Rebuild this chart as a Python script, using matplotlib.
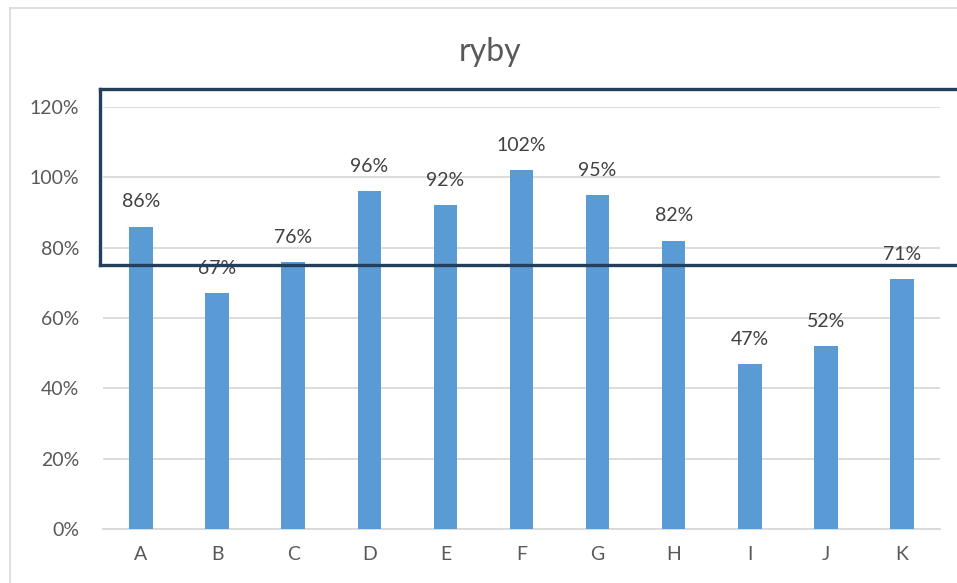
import matplotlib
matplotlib.use("Agg")
import matplotlib.pyplot as plt
from matplotlib.lines import Line2D
from matplotlib.ticker import FuncFormatter

categories = ["A", "B", "C", "D", "E", "F", "G", "H", "I", "J", "K"]
values = [0.86, 0.67, 0.76, 0.96, 0.92, 1.02, 0.95, 0.82, 0.47, 0.52, 0.71]
yticks = [0, 0.2, 0.4, 0.6, 0.8, 1.0, 1.2]

plt.rcParams["font.family"] = ["Lato", "DejaVu Sans"]

W, H = 957, 583
fig = plt.figure(figsize=(W / 100, H / 100), dpi=100)
fig.patch.set_facecolor("white")

def fx(px):
    return px / W

def fy(py):
    return 1 - py / H

ax = fig.add_axes([fx(103), fy(529), fx(940) - fx(103), fy(107) - fy(529)])

bar_color = "#5B9BD5"
text_color = "#595959"
grid_color = "#D9D9D9"

x = range(len(categories))
ax.bar(x, values, width=0.31, color=bar_color, zorder=3)

for xi, v in zip(x, values):
    ax.text(xi, v + 0.046, f"{round(v * 100)}%", ha="center", va="bottom",
            fontsize=14, color="#404040", zorder=4)

ax.set_xlim(-0.5, len(categories) - 0.5)
ax.set_ylim(0, 1.2)
ax.set_yticks(yticks)
ax.yaxis.set_major_formatter(FuncFormatter(lambda v, _: f"{round(v * 100)}%"))
ax.set_xticks(list(x))
ax.set_xticklabels(categories)
ax.tick_params(axis="both", length=0, labelsize=14, colors=text_color)
ax.tick_params(axis="x", pad=12)
ax.tick_params(axis="y", pad=17)
ax.grid(axis="y", color=grid_color, linewidth=1.3, zorder=0)
for s in ["top", "right", "left"]:
    ax.spines[s].set_visible(False)
ax.spines["bottom"].set_color(grid_color)
ax.spines["bottom"].set_linewidth(1.3)

fig.text(fx(490), fy(52), "ryby", ha="center", va="center",
         fontsize=23, color=text_color)

# Chart area border (light gray, left and top edges)
fig.add_artist(Line2D([fx(10), fx(10)], [fy(8), 0], color="#D9D9D9",
                      linewidth=1.2, transform=fig.transFigure))
fig.add_artist(Line2D([fx(10), 1], [fy(8), fy(8)], color="#D9D9D9",
                      linewidth=1.2, transform=fig.transFigure))

# Highlight frame over the upper band, running off the right edge
frame_kw = dict(color="#243F5C", linewidth=2.4, transform=fig.transFigure,
                zorder=10, solid_capstyle="projecting")
fig.add_artist(Line2D([fx(100), 1.0], [fy(89), fy(89)], **frame_kw))
fig.add_artist(Line2D([fx(100), 1.0], [fy(265), fy(265)], **frame_kw))
fig.add_artist(Line2D([fx(100), fx(100)], [fy(89), fy(265)], **frame_kw))

fig.savefig("out.png", dpi=100)
